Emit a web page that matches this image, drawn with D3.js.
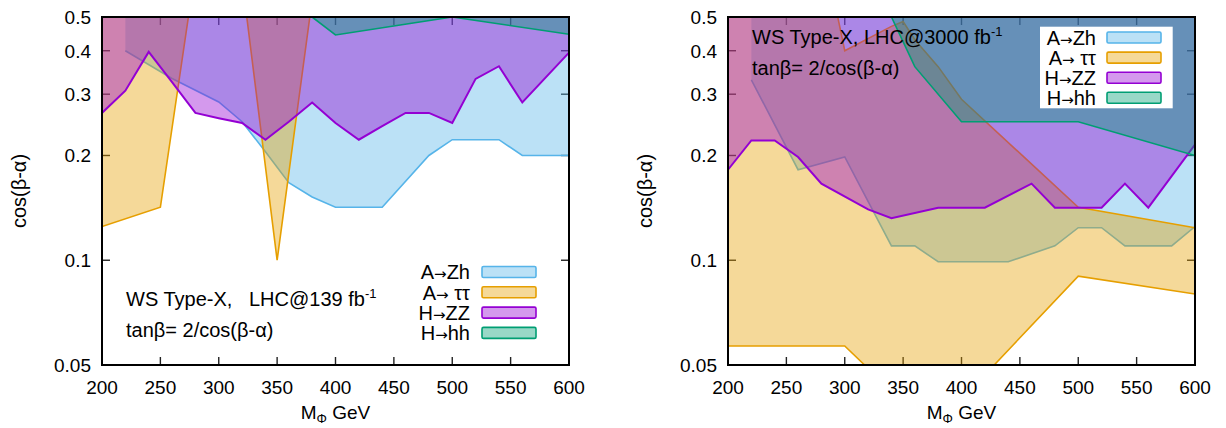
<!DOCTYPE html>
<html><head><meta charset="utf-8">
<script src="https://cdn.jsdelivr.net/npm/d3@7"></script>
<style>
body{margin:0;background:#fff;}
svg{display:block;font-family:"Liberation Sans",Arial,Helvetica,sans-serif;}
</style></head>
<body><svg id="c" width="1226" height="428"></svg>
<script>
// ---------- data ----------
const xTicks = [200,250,300,350,400,450,500,550,600];
const yTicks = [0.05,0.1,0.2,0.3,0.4,0.5];
const channels = [["A","Zh"],["A"," \u03c4\u03c4"],["H","ZZ"],["H","hh"]];
const colors = ["#56b4e9","#e69f00","#9400d3","#009e73"];

// Left panel: LHC@139 fb-1, boundaries [M_Phi, cos(beta-alpha)], excluded above
const zh139 = [[220,0.40],[260,0.333],[300,0.285],[320,0.25],[340,0.205],[360,0.167],[380,0.152],[400,0.142],[440,0.142],[480,0.20],[500,0.222],[540,0.222],[560,0.20],[600,0.20]];
const tt139a = [[200,0.125],[250,0.142],[274,0.5]];
const tt139b = [[324,0.5],[350,0.10],[378,0.5]];
const zz139 = [[200,0.265],[220,0.307],[240,0.397],[260,0.325],[280,0.265],[300,0.256],[320,0.248],[340,0.222],[360,0.25],[380,0.284],[400,0.248],[420,0.222],[440,0.243],[460,0.265],[480,0.265],[500,0.248],[520,0.332],[540,0.361],[560,0.284],[600,0.395]];
const hh139 = [[380,0.5],[400,0.444],[500,0.5],[600,0.446]];

// Right panel: LHC@3000 fb-1
const zh3000 = [[220,0.33],[260,0.182],[300,0.198],[340,0.110],[360,0.110],[380,0.099],[440,0.099],[480,0.110],[500,0.124],[520,0.124],[540,0.110],[580,0.110],[600,0.125]];
const tt3000up = [[294,0.5],[300,0.40],[340,0.47],[350,0.485],[360,0.43],[380,0.36],[400,0.29],[500,0.142],[600,0.124]];
const tt3000lo = [[200,0.0567],[300,0.0567],[317,0.05],[428,0.05],[500,0.090],[600,0.080]];
const zz3000 = [[200,0.182],[220,0.221],[240,0.221],[260,0.198],[280,0.166],[320,0.140],[340,0.132],[380,0.1416],[420,0.1416],[460,0.166],[480,0.1416],[520,0.1416],[540,0.166],[560,0.1416],[600,0.215]];
const hh3000 = [[340,0.5],[360,0.36],[400,0.25],[500,0.25],[600,0.20]];

// ---------- drawing ----------
const svg = d3.select("#c");
const Y0 = 17, Y1 = 365;
const y = d3.scaleLog().domain([0.05,0.5]).range([Y1,Y0]);
const ALPHA = 0.4;
const FS = 19;

function panel(id, x0, x1, layers, textLines, legendBox){
  const x = d3.scaleLinear().domain([200,600]).range([x0,x1]);
  const g = svg.append("g");
  const clipId = "clip"+id;
  g.append("clipPath").attr("id",clipId).append("rect")
    .attr("x",x0).attr("y",Y0).attr("width",x1-x0).attr("height",Y1-Y0);
  const line = d3.line().x(d=>x(d[0])).y(d=>y(d[1]));
  // ticks (under fills)
  const tk = g.append("g").attr("stroke","#222").attr("stroke-width",1.4);
  xTicks.slice(1,-1).forEach(v=>{
    tk.append("line").attr("x1",x(v)).attr("x2",x(v)).attr("y1",Y1).attr("y2",Y1-8);
    tk.append("line").attr("x1",x(v)).attr("x2",x(v)).attr("y1",Y0).attr("y2",Y0+8);
  });
  yTicks.slice(1,-1).forEach(v=>{
    tk.append("line").attr("x1",x0).attr("x2",x0+8).attr("y1",y(v)).attr("y2",y(v));
    tk.append("line").attr("x1",x1).attr("x2",x1-8).attr("y1",y(v)).attr("y2",y(v));
  });
  const fg = g.append("g").attr("clip-path",`url(#${clipId})`);
  layers.forEach(L=>{
    L.polys.forEach(p=>{
      fg.append("path").attr("d",line(p)+"Z").attr("fill",colors[L.c]).attr("fill-opacity",ALPHA).attr("stroke","none");
    });
    L.lines.forEach(p=>{
      fg.append("path").attr("d",line(p)).attr("fill","none").attr("stroke",colors[L.c])
        .attr("stroke-width",L.c===2?2:1.6).attr("stroke-linejoin","miter");
    });
  });
  // frame
  g.append("rect").attr("x",x0).attr("y",Y0).attr("width",x1-x0).attr("height",Y1-Y0)
    .attr("fill","none").attr("stroke","#000").attr("stroke-width",2);
  // tick labels
  xTicks.forEach(v=>{
    g.append("text").attr("x",x(v)).attr("y",394).attr("text-anchor","middle")
      .attr("font-size",FS).text(v);
  });
  yTicks.forEach(v=>{
    g.append("text").attr("x",x0-11).attr("y",y(v)).attr("dy","0.36em").attr("text-anchor","end")
      .attr("font-size",FS).text(v);
  });
  // axis titles
  const xl = g.append("text").attr("x",(x0+x1)/2).attr("y",419).attr("text-anchor","middle").attr("font-size",FS);
  xl.append("tspan").text("M");
  xl.append("tspan").attr("font-size",13).attr("dy",4).text("\u03a6");
  xl.append("tspan").attr("dy",-4).text(" GeV");
  g.append("text").attr("transform",`translate(${x0-76},${(Y0+Y1)/2}) rotate(-90)`)
    .attr("text-anchor","middle").attr("font-size",20).text("cos(\u03b2-\u03b1)");
  // annotation
  textLines.forEach(t=>{
    const tx = g.append("text").attr("x",t.x).attr("y",t.y).attr("font-size",20).style("white-space","pre");
    tx.append("tspan").text(t.s);
    if(t.sup){ tx.append("tspan").attr("font-size",13).attr("dy",-8).text(t.sup); }
  });
  // legend
  const lb = legendBox;
  if(lb.box){
    g.append("rect").attr("x",lb.box[0]).attr("y",lb.box[1]).attr("width",lb.box[2]).attr("height",lb.box[3]).attr("fill","#fff");
  }
  channels.forEach((c,i)=>{
    const cy = lb.y + i*lb.dy;
    const t = g.append("text").attr("x",lb.tx).attr("y",cy).attr("dy","0.36em").attr("text-anchor","end").attr("font-size",20).style("white-space","pre");
    t.append("tspan").text(c[0]);
    t.append("tspan").attr("font-family","DejaVu Sans").attr("font-size",15).text("\u2192");
    t.append("tspan").text(c[1]);
    g.append("rect").attr("x",lb.rx).attr("y",cy-5.5).attr("width",54).attr("height",11).attr("rx",1.5)
      .attr("fill",colors[i]).attr("fill-opacity",ALPHA).attr("stroke",colors[i]).attr("stroke-width",1.6);
  });
}

function closeTop(b){ // boundary -> polygon closed along the top edge (0.5)
  return [...b, [b[b.length-1][0],0.5], [b[0][0],0.5]];
}

panel("L",102,569,[
  {c:0, polys:[closeTop(zh139)], lines:[zh139]},
  {c:1, polys:[closeTop(tt139a), tt139b], lines:[tt139a, tt139b]},
  {c:2, polys:[closeTop(zz139)], lines:[zz139]},
  {c:3, polys:[closeTop(hh139)], lines:[hh139]}
],[
  {x:126,y:306,s:"WS Type-X,   LHC@139 fb",sup:"-1"},
  {x:126,y:337,s:"tan\u03b2= 2/cos(\u03b2-\u03b1)"}
],{tx:470, rx:482, y:272, dy:20.3, box:null});

panel("R",728,1195,[
  {c:0, polys:[closeTop(zh3000)], lines:[zh3000]},
  {c:1, polys:[[[200,0.5],...tt3000up,...tt3000lo.slice().reverse()]], lines:[tt3000up, tt3000lo]},
  {c:2, polys:[closeTop(zz3000)], lines:[zz3000]},
  {c:3, polys:[closeTop(hh3000)], lines:[hh3000]}
],[
  {x:752,y:44,s:"WS Type-X, LHC@3000 fb",sup:"-1"},
  {x:752,y:75,s:"tan\u03b2= 2/cos(\u03b2-\u03b1)"}
],{tx:1096, rx:1107, y:37.5, dy:20.1, box:[1040,26.7,132.7,81.6]});
</script></body></html>
